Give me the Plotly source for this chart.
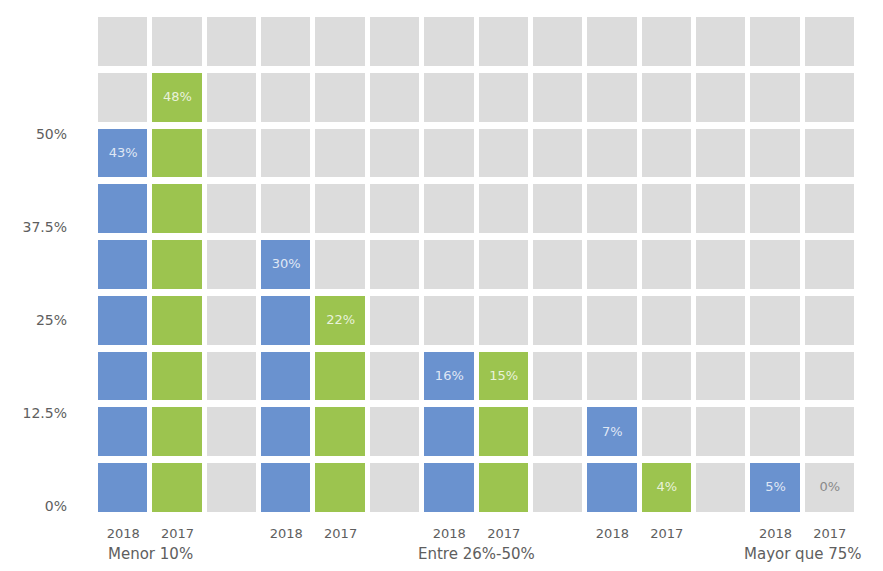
import math
import plotly.graph_objects as go

# Waffle-style column chart: each square is 6.25 percentage points
groups = ["Menor 10%", "", "Entre 26%-50%", "", "Mayor que 75%"]
years = ["2018", "2017"]
share_2018 = [43, 30, 16, 7, 5]
share_2017 = [48, 22, 15, 4, 0]
y_ticks = [0, 12.5, 25, 37.5, 50]

STEP = 6.25
N_ROWS = 9
N_COLS = len(groups) * 3 - 1

GRAY = "#dcdcdc"
BLUE = "#6a92cf"
GREEN = "#9cc44f"
LABEL = "#5e5e5e"
FONT = "'DejaVu Sans', sans-serif"

# Build the cell matrix: 0 = empty, 1 = 2018, 2 = 2017
z = [[0] * N_COLS for _ in range(N_ROWS)]
bar_cols, bar_labels, label_rows, label_cols, label_colors = [], [], [], [], []
for g, (v18, v17) in enumerate(zip(share_2018, share_2017)):
    for k, (val, code) in enumerate(((v18, 1), (v17, 2))):
        col = g * 3 + k
        n = math.ceil(val / STEP)
        for r in range(n):
            z[r][col] = code
        bar_cols.append(col)
        bar_labels.append(years[k])
        label_cols.append(col)
        label_rows.append(max(n - 1, 0))
        label_colors.append("rgba(255,255,255,0.8)" if n > 0 else "#8a8a8a")

values = [v for pair in zip(share_2018, share_2017) for v in pair]
texts = [f"{v}%" for v in values]

fig = go.Figure()
fig.add_trace(go.Heatmap(
    z=z,
    x=list(range(N_COLS)),
    y=list(range(N_ROWS)),
    zmin=0, zmax=2,
    colorscale=[[0, GRAY], [0.333, GRAY], [0.333, BLUE], [0.667, BLUE],
                [0.667, GREEN], [1, GREEN]],
    showscale=False,
    xgap=5, ygap=7,
    hoverinfo="skip",
))
fig.add_trace(go.Scatter(
    x=label_cols, y=label_rows, mode="text", text=texts,
    textfont=dict(family=FONT, size=13, color=label_colors),
    hoverinfo="skip", showlegend=False,
))
# Percentage scale shown on the left
fig.add_trace(go.Scatter(
    x=[0] * len(y_ticks), y=y_ticks, yaxis="y2", mode="markers",
    marker=dict(opacity=0), hoverinfo="skip", showlegend=False,
))

for g, name in enumerate(groups):
    if name:
        fig.add_annotation(
            x=g * 3 + 0.5, y=0, xref="x", yref="paper",
            yanchor="top", yshift=-27, showarrow=False, text=name,
            font=dict(family=FONT, size=15, color=LABEL),
        )

fig.update_layout(
    width=883, height=571,
    margin=dict(l=96, r=26, t=14, b=55),
    paper_bgcolor="white", plot_bgcolor="white",
    showlegend=False,
    xaxis=dict(
        range=[-0.5, N_COLS - 0.5], tickvals=bar_cols, ticktext=bar_labels,
        showgrid=False, zeroline=False, showline=False, ticks="",
        ticklabelstandoff=8,
        tickfont=dict(family=FONT, size=13, color=LABEL),
    ),
    yaxis=dict(
        range=[-0.5, N_ROWS - 0.5], showticklabels=False,
        showgrid=False, zeroline=False, showline=False, ticks="",
    ),
    yaxis2=dict(
        overlaying="y", side="left", range=[-1.34, 66.08],
        tickvals=y_ticks, ticktext=[f"{t:g}%" for t in y_ticks],
        showgrid=False, zeroline=False, showline=False, ticks="",
        ticklabelstandoff=28,
        tickfont=dict(family=FONT, size=14, color=LABEL),
    ),
)

fig.write_html("out.html")
